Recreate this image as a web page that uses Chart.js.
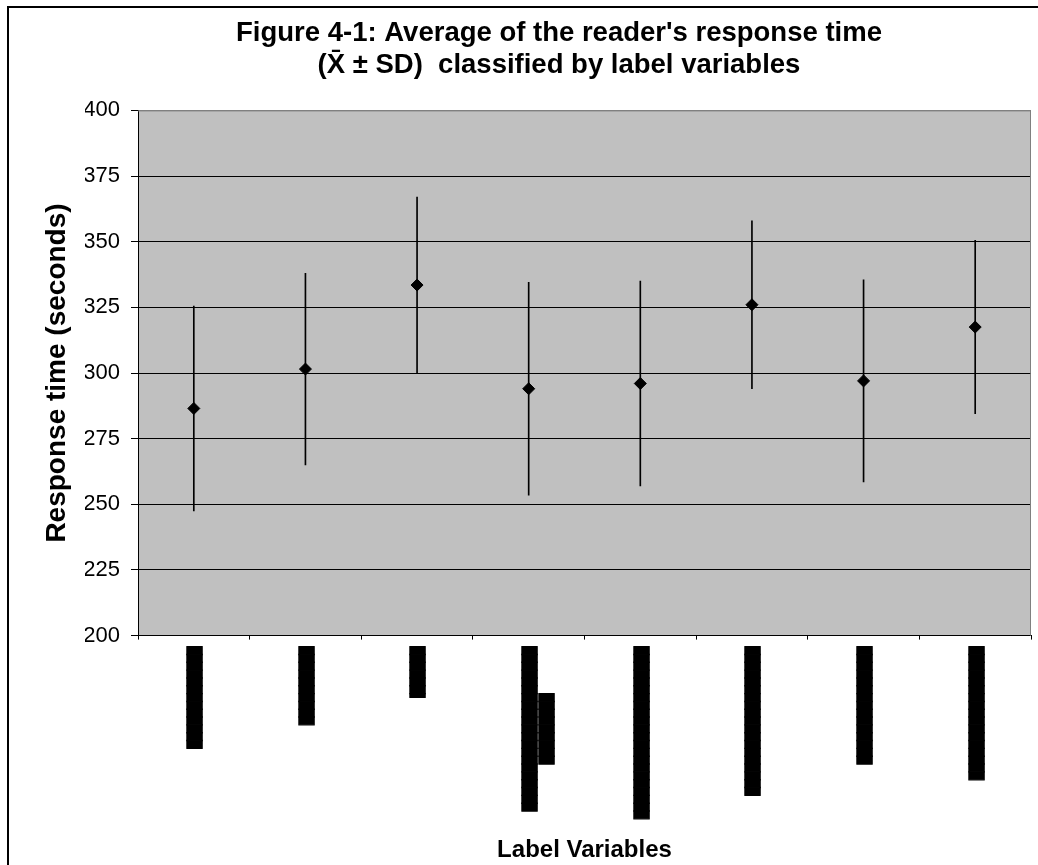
<!DOCTYPE html>
<html>
<head>
<meta charset="utf-8">
<title>Figure 4-1</title>
<script src="https://cdn.jsdelivr.net/npm/chart.js@4.4.1/dist/chart.umd.min.js"></script>
<style>
  html, body { margin: 0; padding: 0; background: #fff; overflow: hidden; }
  #frame { position: absolute; left: 7px; top: 6px; width: 1100px; height: 900px;
           border-left: 2px solid #000; border-top: 2px solid #000; }
  #wrap { position: absolute; left: 0; top: 0; width: 1038px; height: 865px; }
</style>
</head>
<body>
<div id="frame"></div>
<div id="wrap"><canvas id="rt-chart" width="1038" height="865"></canvas></div>
<script>
// Category labels came out of the original figure as solid black blocks,
// so they are kept that way (rotated text made of block characters)
const catLabels = [
  '█████████████',
  '██████████',
  '▐██████',
  ['█████████████████████', '█████████      '],
  '██████████████████████',
  '███████████████████',
  '███████████████',
  '█████████████████'
];

// mean response time and SD per label variable (seconds)
const meanTime = [286.5, 301.5, 333.5, 294, 296, 326, 297, 317.5];
const sdTime   = [39, 36.5, 33.5, 40.5, 39, 32, 38.5, 33];

const yTicks = [200, 225, 250, 275, 300, 325, 350, 375, 400];

const titleLines = [
  "Figure 4-1: Average of the reader's response time",
  '(X\u0304 \u00b1 SD)  classified by label variables'
];

// error bar ranges built from mean +/- sd
const sdRange = meanTime.map((m, i) => [m - sdTime[i], m + sdTime[i]]);

// gray plot area like the old Excel chart
const plotBg = {
  id: 'plotBg',
  beforeDraw(chart) {
    const { ctx, chartArea: a } = chart;
    ctx.save();
    ctx.fillStyle = '#c0c0c0';
    ctx.fillRect(a.left, a.top, a.right - a.left, a.bottom - a.top);
    ctx.restore();
  },
  afterDraw(chart) {
    const { ctx, chartArea: a } = chart;
    ctx.save();
    ctx.strokeStyle = '#808080';
    ctx.lineWidth = 1;
    ctx.beginPath();
    ctx.moveTo(a.left, a.top + 0.5);
    ctx.lineTo(a.right - 0.5, a.top + 0.5);
    ctx.lineTo(a.right - 0.5, a.bottom);
    ctx.stroke();
    ctx.restore();
  }
};

const ctx = document.getElementById('rt-chart');
new Chart(ctx, {
  type: 'bar',
  data: {
    labels: catLabels,
    datasets: [
      {
        type: 'line',
        label: 'Mean',
        data: meanTime,
        showLine: false,
        pointStyle: 'rectRot',
        pointRadius: 6,
        pointBackgroundColor: '#000',
        pointBorderColor: '#000',
        pointBorderWidth: 1,
        order: 0
      },
      {
        type: 'bar',
        label: 'SD',
        data: sdRange,
        backgroundColor: '#000',
        borderWidth: 0,
        barThickness: 1,
        order: 1
      }
    ]
  },
  options: {
    responsive: false,
    animation: false,
    layout: { padding: { left: 85, right: 5, top: 0, bottom: 0 } },
    plugins: {
      legend: { display: false },
      tooltip: { enabled: false },
      title: {
        display: true,
        text: titleLines,
        color: '#000',
        font: { family: "'Liberation Sans', Arial, sans-serif", size: 27.5, weight: 'bold', lineHeight: 1.164 },
        padding: { top: 17.5, bottom: 28.9 }
      }
    },
    scales: {
      x: {
        afterFit: s => { s.height = 229.4; },
        grid: { display: true, drawOnChartArea: false, offset: true, tickLength: 4, color: '#000' },
        border: { color: '#000', width: 1 },
        ticks: {
          autoSkip: false,
          minRotation: 90,
          maxRotation: 90,
          padding: 7,
          labelOffset: 2,
          color: '#000',
          textStrokeColor: '#000',
          textStrokeWidth: 1,
          font: { family: "'DejaVu Sans Mono', monospace", size: 13, lineHeight: 1.3 }
        },
        title: {
          display: true,
          text: 'Label Variables',
          color: '#000',
          font: { family: "'Liberation Sans', Arial, sans-serif", size: 24, weight: 'bold' },
          padding: { top: 0, bottom: 0.6 }
        }
      },
      y: {
        min: 200,
        max: 400,
        afterFit: s => { s.width = 53; },
        afterBuildTicks: s => { s.ticks = yTicks.map(v => ({ value: v })); },
        grid: {
          color: c => (c.tick && c.tick.value === 400 ? '#808080' : '#000'),
          tickColor: '#000',
          tickLength: 7
        },
        border: { color: '#000', width: 1 },
        ticks: {
          padding: 11,
          color: '#000',
          font: { family: "'Liberation Sans', Arial, sans-serif", size: 22 }
        },
        title: {
          display: true,
          text: 'Response time (seconds)',
          color: '#000',
          font: { family: "'Liberation Sans', Arial, sans-serif", size: 28, weight: 'bold' },
          padding: { top: -45, bottom: 0 }
        }
      }
    }
  },
  plugins: [plotBg]
});
</script>
</body>
</html>
